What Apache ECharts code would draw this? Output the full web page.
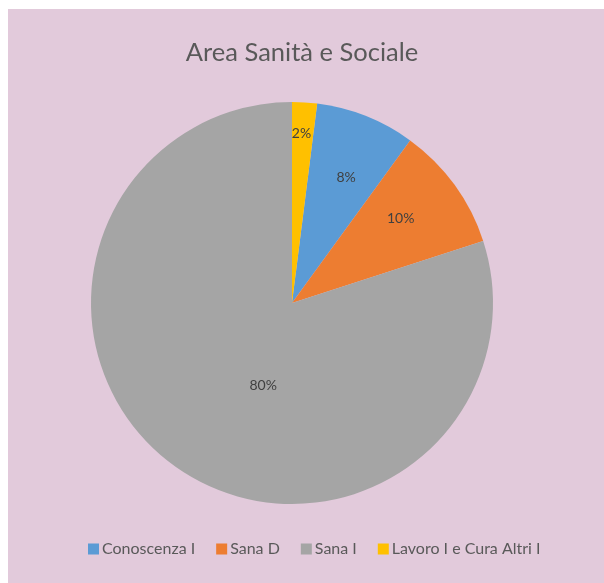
<!DOCTYPE html>
<html>
<head>
<meta charset="utf-8">
<script src="https://cdn.jsdelivr.net/npm/echarts@6/dist/echarts.min.js"></script>
<style>
  html, body { margin: 0; padding: 0; background: #ffffff; }
  #chart { width: 604px; height: 583px; }
</style>
</head>
<body>
<div id="chart"></div>
<script>
// Categories and shares (percent) of the pie
var categories = ['Conoscenza I', 'Sana D', 'Sana I', 'Lavoro I e Cura Altri I'];
var values = [8, 10, 80, 2];
var colors = ['#5B9BD5', '#ED7D31', '#A5A5A5', '#FFC000'];
// Nudges that move each percent label out from the default inside spot
var labelOffsets = [[16, -29], [25, -24], [32, -1], [3, -66]];

var textFont = 'Lato, "Open Sans", sans-serif';

var chart = echarts.init(document.getElementById('chart'), null, { renderer: 'canvas' });

var seriesData = categories.map(function (name, i) {
  return {
    name: name,
    value: values[i],
    itemStyle: { color: colors[i] },
    label: { offset: labelOffsets[i] }
  };
});

chart.setOption({
  backgroundColor: '#ffffff',
  animation: false,
  graphic: [{
    type: 'rect',
    z: -10,
    shape: { x: 8, y: 9, width: 596, height: 574 },
    style: { fill: '#E2CADB' }
  }],
  title: {
    text: 'Area Sanità e Sociale',
    left: 'center',
    top: 35,
    textStyle: {
      fontFamily: textFont,
      fontSize: 25.5,
      fontWeight: 'normal',
      color: '#595959'
    }
  },
  legend: {
    data: categories,
    left: 83,
    top: 536,
    icon: 'rect',
    itemWidth: 11,
    itemHeight: 11,
    itemGap: 21,
    textStyle: {
      fontFamily: textFont,
      fontSize: 16,
      color: '#595959',
      padding: [0, 0, 0, -2]
    }
  },
  series: [{
    type: 'pie',
    center: [292, 303],
    radius: [0, 201],
    startAngle: 82.8,
    clockwise: true,
    data: seriesData,
    label: {
      show: true,
      position: 'inside',
      formatter: '{c}%',
      fontFamily: textFont,
      fontSize: 14,
      color: '#404040'
    },
    labelLine: { show: false },
    emphasis: { disabled: true }
  }]
});
</script>
</body>
</html>
